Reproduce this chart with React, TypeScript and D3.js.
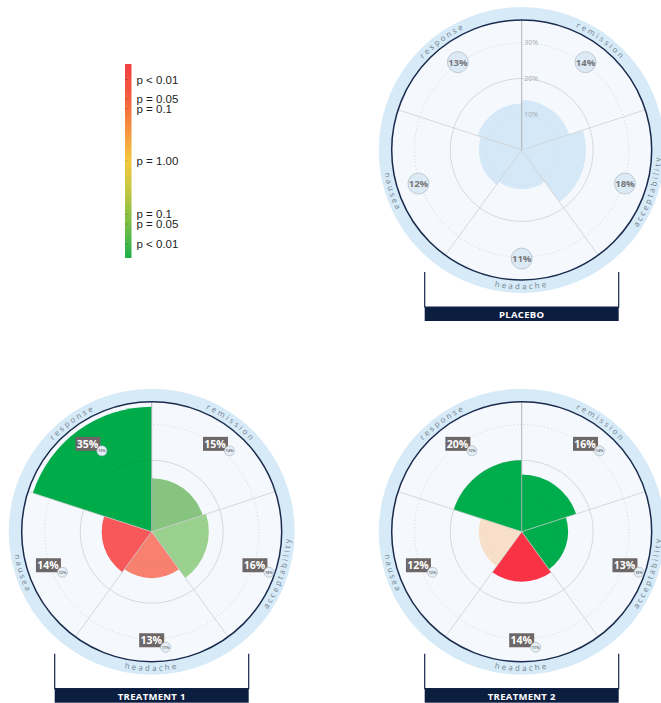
import { scaleLinear, arc } from 'd3'

const CATEGORIES = ['response', 'remission', 'acceptability', 'headache', 'nausea']
const PLACEBO = [13, 14, 18, 11, 12]
const TREATMENT_1 = [35, 15, 16, 13, 14]
const TREATMENT_2 = [20, 16, 13, 14, 12]
const GRID_TICKS = [10, 20, 30]

// wedge fills (p-value colouring)
const PLACEBO_FILL = ['#d4e8f7', '#d4e8f7', '#d4e8f7', '#d4e8f7', '#d4e8f7']
const T1_FILL = ['#00ab4a', '#86c47f', '#9bd18f', '#f7806f', '#f9585a']
const T2_FILL = ['#00ad4c', '#00ad4c', '#00ad4c', '#f93345', '#f7dfc9']

const LEGEND_LABELS = ['p < 0.01', 'p = 0.05', 'p = 0.1', 'p = 1.00', 'p = 0.1', 'p = 0.05', 'p < 0.01']
const LEGEND_POS = [-0.84, -0.64, -0.54, 0, 0.55, 0.65, 0.86]

const R_INNER = 130
const R_OUTER = 143
const rScale = scaleLinear().domain([0, 36.4]).range([0, R_INNER])
const STEP = (2 * Math.PI) / CATEGORIES.length

const pt = (r: number, a: number) => [r * Math.sin(a), -r * Math.cos(a)]

function labelPath(r: number, a0: number, a1: number, sweep: number) {
  const [x0, y0] = pt(r, a0)
  const [x1, y1] = pt(r, a1)
  return `M${x0},${y0} A${r},${r} 0 0 ${sweep} ${x1},${y1}`
}

function Radar({
  cx,
  cy,
  id,
  title,
  values,
  fills,
  baseline,
}: {
  cx: number
  cy: number
  id: string
  title: string
  values: number[]
  fills: string[]
  baseline?: number[]
}) {
  const wedge = arc<any>()
  const badgeR = rScale(30.4)
  return (
    <g transform={`translate(${cx},${cy})`}>
      {/* bracket */}
      <path
        d={`M${-97},${122} V${157} H${97} V${122}`}
        fill='none'
        stroke='#14254a'
        strokeWidth={1.2}
      />
      <rect x={-97} y={157} width={194} height={14} fill='#0c1e40' />
      <text
        x={0}
        y={164.5}
        textAnchor='middle'
        dominantBaseline='central'
        fill='#fff'
        fontSize={9.5}
        fontWeight='bold'
        fontFamily='"Open Sans", sans-serif'
        letterSpacing={0.3}
      >
        {title}
      </text>

      <circle r={R_OUTER} fill='#d7eaf7' />
      <circle r={R_INNER} fill='#f5f9fd' />

      {/* grid under */}
      {GRID_TICKS.map((t) => (
        <circle
          key={t}
          r={rScale(t)}
          fill='none'
          stroke='#dadde0'
          strokeWidth={0.8}
          strokeDasharray={t === 20 ? undefined : '1.2,2.2'}
        />
      ))}

      {/* wedges */}
      {values.map((v, i) => (
        <path
          key={i}
          d={
            wedge({
              innerRadius: 0,
              outerRadius: rScale(v),
              startAngle: (i - 1) * STEP,
              endAngle: i * STEP,
            }) as string
          }
          fill={fills[i]}
        />
      ))}

      {/* grid over, faint */}
      {GRID_TICKS.map((t) => (
        <circle
          key={'o' + t}
          r={rScale(t)}
          fill='none'
          stroke='#000'
          strokeOpacity={0.06}
          strokeWidth={0.8}
          strokeDasharray={t === 20 ? undefined : '1.2,2.2'}
        />
      ))}

      {/* sector lines */}
      {CATEGORIES.map((c, i) => {
        const [x, y] = pt(R_INNER, i * STEP)
        return (
          <line
            key={c}
            x1={0}
            y1={0}
            x2={x}
            y2={y}
            stroke={i === 0 ? '#a9adb3' : '#c9cbcd'}
            strokeOpacity={0.9}
            strokeWidth={i === 0 ? 1 : 0.8}
          />
        )
      })}

      {!baseline &&
        GRID_TICKS.map((t) => (
          <text
            key={'t' + t}
            x={2.5}
            y={-rScale(t)}
            dominantBaseline='central'
            fontSize={7}
            fill='#a7acb2'
            fontFamily='"Open Sans", sans-serif'
          >
            {t}%
          </text>
        ))}

      <circle r={R_INNER} fill='none' stroke='#1b2b4d' strokeWidth={1.5} />

      {/* curved category labels */}
      <defs>
        {CATEGORIES.map((c, i) => {
          const m = (i - 0.5) * STEP
          const flip = Math.cos(m) < 0
          const d = flip
            ? labelPath(139.2, m + 0.9, m - 0.9, 0)
            : labelPath(134.3, m - 0.9, m + 0.9, 1)
          return <path key={c} id={`${id}-lab-${i}`} d={d} />
        })}
      </defs>
      {CATEGORIES.map((c, i) => (
        <text
          key={c}
          fontSize={7.8}
          letterSpacing={2.4}
          fill='#6e7d8d'
          fontFamily='"Open Sans", sans-serif'
        >
          <textPath href={`#${id}-lab-${i}`} startOffset='50%' textAnchor='middle'>
            {c}
          </textPath>
        </text>
      ))}

      {/* value badges */}
      {values.map((v, i) => {
        const m = (i - 0.5) * STEP
        const [x, y] = pt(badgeR, m)
        if (!baseline) {
          return (
            <g key={i} transform={`translate(${x},${y})`}>
              <circle r={10.5} fill='#dceaf5' stroke='#b5bfc8' strokeWidth={0.8} />
              <text
                textAnchor='middle'
                dominantBaseline='central'
                fontSize={9.5}
                fontWeight='bold'
                fill='#77777a'
                fontFamily='"Open Sans", sans-serif'
              >
                {v}%
              </text>
            </g>
          )
        }
        return (
          <g key={i} transform={`translate(${x},${y})`}>
            <rect x={-12.5} y={-7} width={25} height={14} fill='#6d6768' />
            <text
              x={-0.5}
              textAnchor='middle'
              dominantBaseline='central'
              fontSize={10.5}
              fontWeight='bold'
              fill='#fff'
              fontFamily='"Open Sans", sans-serif'
            >
              {v}%
            </text>
            <circle cx={14} cy={7} r={5} fill='#e3eef7' stroke='#aeb8c2' strokeWidth={0.7} />
            <text
              x={14}
              y={7}
              textAnchor='middle'
              dominantBaseline='central'
              fontSize={3.6}
              fontWeight='bold'
              fill='#777'
              fontFamily='"Open Sans", sans-serif'
            >
              {baseline[i]}%
            </text>
          </g>
        )
      })}
    </g>
  )
}

function Legend() {
  const top = 64
  const bottom = 258
  const y = scaleLinear().domain([-1, 1]).range([top, bottom])
  return (
    <g>
      <defs>
        <linearGradient id='pgrad' x1='0' y1='0' x2='0' y2='1'>
          <stop offset='0' stopColor='#f43f45' />
          <stop offset='0.15' stopColor='#f4593f' />
          <stop offset='0.32' stopColor='#f58c3e' />
          <stop offset='0.5' stopColor='#f5c83f' />
          <stop offset='0.65' stopColor='#c2c740' />
          <stop offset='0.82' stopColor='#7bbf45' />
          <stop offset='1' stopColor='#1daf4b' />
        </linearGradient>
      </defs>
      <rect x={125} y={top} width={6.5} height={bottom - top} fill='url(#pgrad)' />
      {LEGEND_LABELS.map((l, i) => (
        <g key={i}>
          <line x1={125} x2={127.5} y1={y(LEGEND_POS[i])} y2={y(LEGEND_POS[i])} stroke='#000' strokeOpacity={0.2} />
          <text
            x={136.5}
            y={y(LEGEND_POS[i])}
            dominantBaseline='central'
            fontSize={11.5}
            fill='#1e1e1e'
            fontFamily='"Liberation Sans", Arial, sans-serif'
          >
            {l}
          </text>
        </g>
      ))}
    </g>
  )
}

export default function App() {
  return (
    <svg
      width={661}
      height={703}
      style={{ position: 'absolute', left: 0, top: 0, display: 'block', background: '#fff' }}
    >
      <Legend />
      <Radar cx={521.7} cy={150} id='pl' title='PLACEBO' values={PLACEBO} fills={PLACEBO_FILL} />
      <Radar
        cx={151.7}
        cy={531.7}
        id='t1'
        title='TREATMENT 1'
        values={TREATMENT_1}
        fills={T1_FILL}
        baseline={PLACEBO}
      />
      <Radar
        cx={521.7}
        cy={531.7}
        id='t2'
        title='TREATMENT 2'
        values={TREATMENT_2}
        fills={T2_FILL}
        baseline={PLACEBO}
      />
    </svg>
  )
}
